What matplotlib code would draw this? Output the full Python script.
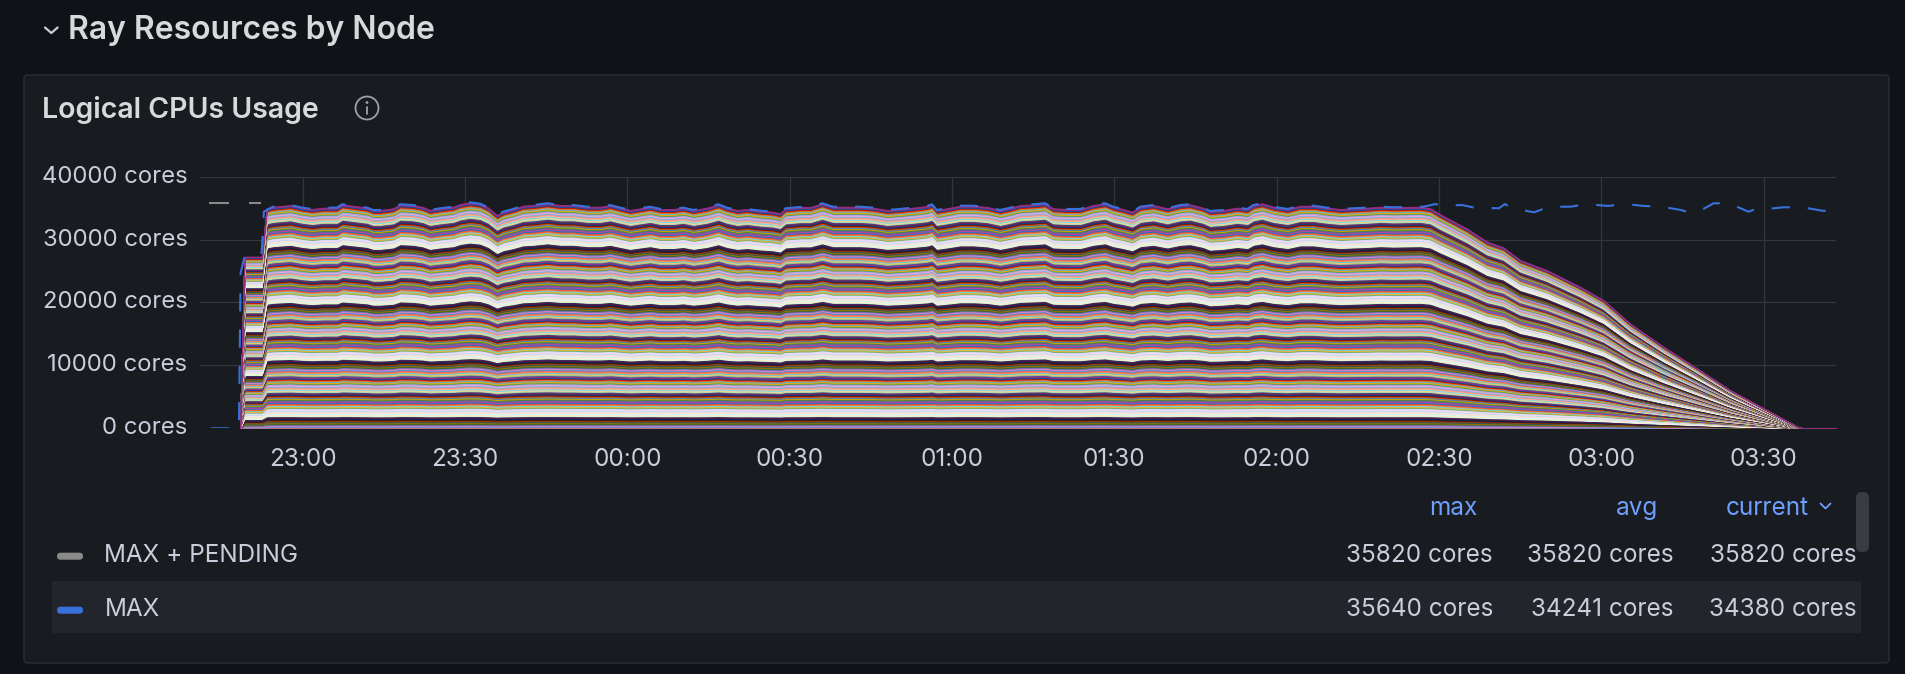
import numpy as np
import matplotlib
matplotlib.use("Agg")
import matplotlib.pyplot as plt
from matplotlib.patches import FancyBboxPatch, Rectangle, Circle
from matplotlib.lines import Line2D
from matplotlib.transforms import IdentityTransform

W, H = 1906, 674
plt.rcParams['font.family'] = ['Inter', 'DejaVu Sans']

t_min = [48.4, 49.2, 52.4, 53.3, 54.5, 57.7, 59.9, 61.7, 63.8, 66.3, 67.3, 69.3,
         71.9, 73.0, 74.3, 76.7, 78.0, 80.4, 82.2, 83.5, 85.4, 87.8, 89.1, 90.9,
         92.8, 94.3, 95.9, 97.0, 98.9, 100.7, 102.6, 105.2, 107.6, 110.0, 112.6,
         115.0, 116.8, 118.7, 120.5, 122.4, 124.2, 126.1, 128.5, 130.3, 132.2,
         134.7, 136.8, 138.4, 140.3, 142.1, 144.5, 146.9, 148.2, 149.2, 152.0,
         153.8, 156.0, 158.0, 160.6, 163.0, 165.4, 168.0, 170.4, 172.8, 175.4,
         176.3, 177.2, 179.7, 181.5, 183.9, 186.5, 188.9, 190.8, 192.6, 195.0,
         197.2, 198.7, 201.3, 203.7, 206.1, 208.3, 209.8, 211.6, 213.3, 214.8,
         217.2, 219.8, 222.2, 224.0, 226.4, 227.7, 230.1, 232.7, 234.6, 235.7,
         237.3, 239.4, 242.0, 244.4, 246.8, 249.3, 251.8, 254.2, 256.8, 259.2,
         261.6, 264.2, 266.6, 268.4, 270.3, 272.7, 275.3, 278.9, 281.9, 285.0,
         289.9, 296.1, 300.4, 305.3, 311.5, 317.7, 323.8, 330.0, 336.2, 337.1,
         343.4]
total_cores = [0, 27300, 27300, 34980, 35230, 35500, 35080, 34870, 35080, 35080, 35620, 35390,
               35080, 34710, 34710, 34980, 35620, 35500, 35190, 34710, 34980, 35230, 35660, 35930,
               35710, 35080, 33910, 34440, 34870, 35390, 35500, 35780, 35500, 35500, 35230,
               35230, 35500, 35080, 34710, 34980, 35230, 34870, 34870, 35080, 34710,
               35080, 35620, 35080, 34710, 34870, 34600, 34440, 34190, 34980, 35190,
               35190, 35780, 35230, 35230, 35230, 35080, 34710, 34870, 35080, 35350,
               35620, 34710, 35080, 35390, 35390, 35190, 34710, 35080, 35500, 35620,
               35780, 34980, 34870, 34870, 35500, 35780, 35230, 34870, 34440, 35230,
               35500, 34980, 35500, 35620, 35080, 34550, 34710, 35080, 34870, 35500,
               35780, 35230, 34870, 35390, 35390, 35080, 34870, 34980, 35080, 35230,
               35140, 35190, 35230, 34980, 34000, 32900, 31700, 29670, 28780, 26760,
               25170, 22510, 20400, 16700, 12970, 9540, 6090, 3180, 250, 0,
               0]

# MAX line: ramp at start, then it rides the stack top, then the tail after 02:27
max_start_t = [43.0, 48.2, 48.5, 49.3, 52.4, 52.8]
max_start_v = [0, 0, 24650, 27550, 27920, 34440]
max_tail_t = [267.2, 269.4, 270.4, 274.3, 276.5, 281.1, 282.2, 283.5, 287.6, 290.4,
              294.4, 297.2, 301.2, 304.4, 307.9, 311.2, 314.7, 315.8, 317.6, 320.8,
              323.6, 327.2, 329.0, 330.1, 333.7, 337.2, 340.8, 343.3]
max_tail_v = [35230, 35660, 35350, 35500, 35080, 34980, 35660, 34980, 34340, 35230,
              35230, 35660, 35350, 35660, 35350, 35230, 34710, 34440, 34280, 35780,
              35780, 34440, 34980, 34820, 35140, 35140, 34600, 34440]
pending_t = [42.7, 52.3]
pending_v = [35820, 35820]

n_nodes = 219
palette = ["#7EB26D", "#EAB839", "#6ED0E0", "#EF843C", "#E24D42", "#1F78C1", "#BA43A9",
           "#705DA0", "#508642", "#CCA300", "#447EBC", "#C15C17", "#890F02", "#0A437C",
           "#6D1F62", "#584477", "#B7DBAB", "#F4D598", "#70DBED", "#F9BA8F", "#F29191",
           "#82B5D8", "#E5A8E2", "#AEA2E0", "#629E51", "#E5AC0E", "#64B0C8", "#E0752D",
           "#BF1B00", "#0A50A1", "#962D82", "#614D93", "#9AC48A", "#F2C96D", "#65C5DB",
           "#F9934E", "#EA6460", "#5195CE", "#D683CE", "#806EB7", "#3F6833", "#967302",
           "#2F575E", "#99440A", "#58140C", "#052B51", "#511749", "#3F2B5B", "#E0F9D7",
           "#FCEACA", "#CFFAFF", "#F9E2D2", "#FCE2DE", "#BADFF4", "#F9D9F9", "#DEDAF7"]
palette_start = 36

x_ticks = [60, 90, 120, 150, 180, 210, 240, 270, 300, 330]
x_labels = ["23:00", "23:30", "00:00", "00:30", "01:00", "01:30", "02:00", "02:30", "03:00", "03:30"]
y_ticks = [0, 10000, 20000, 30000, 40000]

legend_names = ["MAX + PENDING", "MAX"]
legend_colors = ["#8a8a8a", "#3871dc"]
legend_max = ["35820 cores", "35640 cores"]
legend_avg = ["35820 cores", "34241 cores"]
legend_cur = ["35820 cores", "34380 cores"]

BG = "#111217"
PANEL = "#181b1f"
TXT = "#ccccdc"
BLUE_TXT = "#6e9fff"
FS = 17.5


def fx(x):
    return x / W


def fy(y):
    return 1 - y / H


def pline(xs, ys, color, lw):
    fig.add_artist(Line2D(xs, [H - y for y in ys], color=color, lw=lw,
                          transform=IdentityTransform(), solid_capstyle='round',
                          solid_joinstyle='round', zorder=3))


fig = plt.figure(figsize=(W / 100, H / 100), dpi=100, facecolor=BG)

# panel box
fig.add_artist(FancyBboxPatch((24, H - 663), 1865, 588, boxstyle="round,pad=0,rounding_size=4",
                              transform=IdentityTransform(), facecolor=PANEL,
                              edgecolor="#2a2d33", lw=1, zorder=-5))

# section header
pline([45, 51.3, 57.6], [27.5, 33, 27.5], TXT, 1.6)
fig.text(fx(68), fy(39.3), "Ray Resources by Node", color="#d8d9da", fontsize=23,
         fontweight="semibold", va="baseline", ha="left")

# panel title + info icon
fig.text(fx(42.4), fy(118.3), "Logical CPUs Usage", color="#d8d9da", fontsize=20.5,
         fontweight="semibold", va="baseline", ha="left")
fig.add_artist(Circle((367, H - 108), 11.5, transform=IdentityTransform(),
                      facecolor="none", edgecolor="#9fa1a8", lw=1.3))
fig.add_artist(Circle((367, H - 102.5), 1.4, transform=IdentityTransform(),
                      facecolor="#9fa1a8", edgecolor="none"))
pline([367, 367], [106.5, 114], "#9fa1a8", 1.3)

# chart
ax = fig.add_axes([fx(200), fy(428.3), 1636 / W, (428.3 - 176.7) / H])
ax.set_zorder(2)
ax.set_facecolor("none")
for s in ax.spines.values():
    s.set_visible(False)

t = np.array(t_min)
share = np.array(total_cores) / n_nodes
layers = [share] * n_nodes
cols = [palette[(i + palette_start) % len(palette)] for i in range(n_nodes)]
polys = ax.stackplot(t, layers, colors=cols, zorder=2)
for p, c in zip(polys, cols):
    p.set_edgecolor(c)
    p.set_linewidth(0.7)

steady = [(tt, v) for tt, v in zip(t_min, total_cores) if 54 < tt < 267]
max_t = max_start_t + [p[0] for p in steady] + max_tail_t
max_v = max_start_v + [p[1] for p in steady] + max_tail_v
ax.plot(max_t, max_v, color="#3871dc", lw=1.5, dashes=(8.7, 8.7), zorder=4)
ax.plot(pending_t, pending_v, color="#8a8a8a", lw=1.5, dashes=(9.6, 9.6), zorder=4)

ax.set_xlim(41.0, 343.4)
ax.set_ylim(0, 40000)
ax.set_xticks(x_ticks, labels=x_labels)
ax.set_yticks(y_ticks, labels=[f"{v} cores" for v in y_ticks])
ax.grid(True, color="#34363c", lw=0.9, zorder=0)
ax.set_axisbelow(True)
ax.tick_params(length=0, colors=TXT, labelsize=FS)
ax.tick_params(axis="y", pad=9, labelsize=17.2)
ax.tick_params(axis="x", pad=14)
for lab in ax.get_yticklabels():
    lab.set_va("center")

# legend
fig.add_artist(Rectangle((52, H - 633), 1809, 52, transform=IdentityTransform(),
                         facecolor="#22252b", edgecolor="none", zorder=-4))
fig.add_artist(FancyBboxPatch((1856, H - 552), 13, 60, boxstyle="round,pad=0,rounding_size=6",
                              transform=IdentityTransform(), facecolor="#3a3c42",
                              edgecolor="none", zorder=-4))
for txt, xr in zip(["max", "avg", "current"], [1477, 1658, 1809]):
    fig.text(fx(xr), fy(515), txt, color=BLUE_TXT, fontsize=FS, va="baseline", ha="right")
pline([1820.5, 1825.5, 1830.5], [503.5, 508.5, 503.5], BLUE_TXT, 1.3)

row_y = [561.7, 615.7]
for name, col, vm, va_, vc, y in zip(legend_names, legend_colors, legend_max, legend_avg,
                                     legend_cur, row_y):
    fig.add_artist(FancyBboxPatch((57, H - (y - 5.5) - 3.5), 26, 7,
                                  boxstyle="round,pad=0,rounding_size=3.5",
                                  transform=IdentityTransform(), facecolor=col,
                                  edgecolor="none", zorder=-3))
    fig.text(fx(104.5), fy(y), name, color=TXT, fontsize=FS, va="baseline", ha="left")
    for s, xr in zip([vm, va_, vc], [1493, 1674, 1857]):
        fig.text(fx(xr), fy(y), s, color=TXT, fontsize=FS, va="baseline", ha="right")

fig.savefig("out.png", dpi=100, facecolor=BG)
